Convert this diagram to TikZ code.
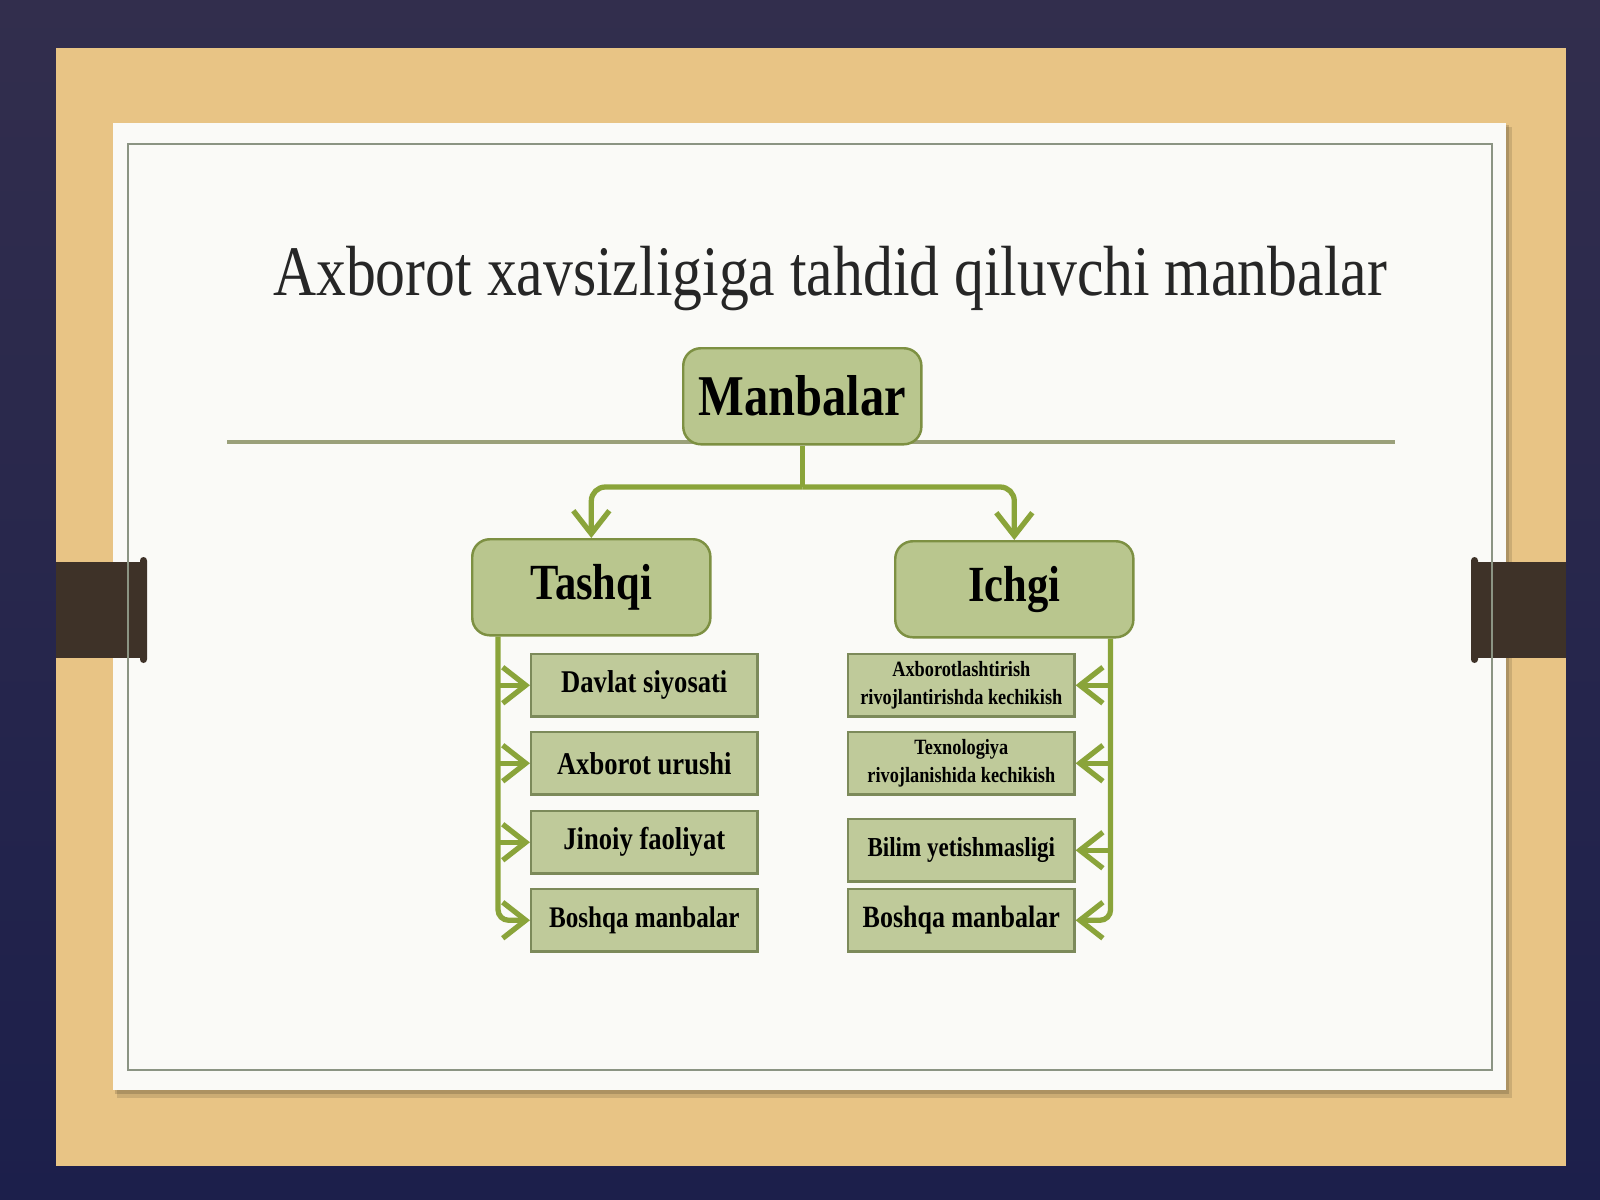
\documentclass[tikz,border=0pt]{standalone}
\usepackage{fontspec}
\setmainfont{Liberation Serif}[FakeStretch=0.84]
\usetikzlibrary{arrows.meta}

\definecolor{bgtop}{HTML}{322E4D}
\definecolor{bgbot}{HTML}{1C1F4B}
\definecolor{wood}{HTML}{E8C485}
\definecolor{slide}{HTML}{FAFAF7}
\definecolor{framegray}{HTML}{8B9483}
\definecolor{tabbrown}{HTML}{3E3228}
\definecolor{rulegreen}{HTML}{9AA07A}
\definecolor{boxfill}{HTML}{B9C68E}
\definecolor{boxline}{HTML}{7D9042}
\definecolor{subfill}{HTML}{BFCA9A}
\definecolor{subline}{HTML}{7C8A5A}
\definecolor{linkgreen}{HTML}{8AA43A}
\definecolor{titlegray}{HTML}{262626}

\tikzset{
  topbox/.style={rectangle, draw=boxline, fill=boxfill, line width=0.7pt, rounded corners=5pt,
    minimum width=23.8mm, minimum height=9.6mm, inner sep=0pt, anchor=north west,
    font=\bfseries\fontsize{14.4}{16}\selectfont},
  subbox/.style={rectangle, draw=subline, fill=subfill, line width=0.7pt,
    minimum width=22.6mm, minimum height=6.2mm, inner sep=0pt, anchor=north west, align=center,
    font=\bfseries\fontsize{9}{11}\selectfont},
  smalltext/.style={font=\bfseries\fontsize{6.2}{8}\selectfont},
  link/.style={draw=linkgreen, line width=1.5pt},
  arr/.style={link, -{Straight Barb[length=2.3mm,width=3.6mm]}},
}

\begin{document}
\begin{tikzpicture}[x=0.01cm, y=-0.01cm]
\useasboundingbox (0,0) rectangle (1600,1200);

% backdrop, wooden board and slide
\shade[top color=bgtop, bottom color=bgbot] (0,0) rectangle (1600,1200);
\fill[wood] (56,48) rectangle (1566,1166);
\fill[black, opacity=0.12] (117,127) rectangle (1512,1098);
\fill[black, opacity=0.15] (115,125) rectangle (1509,1094);
\fill[slide] (113,123) rectangle (1506,1090);

% clips
\fill[tabbrown] (56,562) rectangle (145,658);
\fill[tabbrown, rounded corners=1pt] (140,557) rectangle (147,663);
\fill[tabbrown] (1474,562) rectangle (1566,658);
\fill[tabbrown, rounded corners=1pt] (1471,557) rectangle (1478,663);

\draw[framegray, line width=0.6pt] (128,144) rectangle (1492,1070);

% title and rule
\node (title) [anchor=base, text=titlegray, font=\fontsize{20.2}{24}\selectfont] at (830,295) {Axborot xavsizligiga tahdid qiluvchi manbalar};
\draw[rulegreen, line width=0.9pt] (227,442) -- (1395,442);

% main boxes
\node (manbalar) [topbox, font=\bfseries\fontsize{16.4}{18}\selectfont] at (682,347) {Manbalar};
\node (tashqi) [topbox] at (471,538) {Tashqi};
\node (ichgi) [topbox] at (894,540) {Ichgi};

% tashqi list
\node (t1) [subbox] at (530,653) {Davlat siyosati};
\node (t2) [subbox] at (530,731) {Axborot urushi};
\node (t3) [subbox] at (530,810) {Jinoiy faoliyat};
\node (t4) [subbox, font=\bfseries\fontsize{8.5}{10}\selectfont] at (530,888) {Boshqa manbalar};

% ichgi list
\node (i1) [subbox, smalltext] at (847,653) {Axborotlashtirish\\rivojlantirishda kechikish};
\node (i2) [subbox, smalltext] at (847,731) {Texnologiya\\rivojlanishida kechikish};
\node (i3) [subbox, font=\bfseries\fontsize{7.8}{10}\selectfont] at (847,818) {Bilim yetishmasligi};
\node (i4) [subbox, font=\bfseries\fontsize{8.8}{10}\selectfont] at (847,888) {Boshqa manbalar};

% connectors
\coordinate (fork) at (800,487);
\coordinate (tspine) at ([xshift=2.7mm]tashqi.south west);
\coordinate (ispine) at ([xshift=-2.4mm]ichgi.south east);

\draw[link] (manbalar.south) -- (manbalar.south |- fork);
\draw[arr, rounded corners=4pt] (manbalar.south |- fork) -| (tashqi.north);
\draw[arr, rounded corners=4pt] (manbalar.south |- fork) -| (ichgi.north);

\draw[arr, rounded corners=3pt] (tspine) |- (t4.west);
\foreach \b in {t1,t2,t3}
  \draw[arr] (tspine |- \b.west) -- (\b.west);

\draw[arr, rounded corners=3pt] (ispine) |- (i4.east);
\foreach \b in {i1,i2,i3}
  \draw[arr] (ispine |- \b.east) -- (\b.east);
\end{tikzpicture}
\end{document}
